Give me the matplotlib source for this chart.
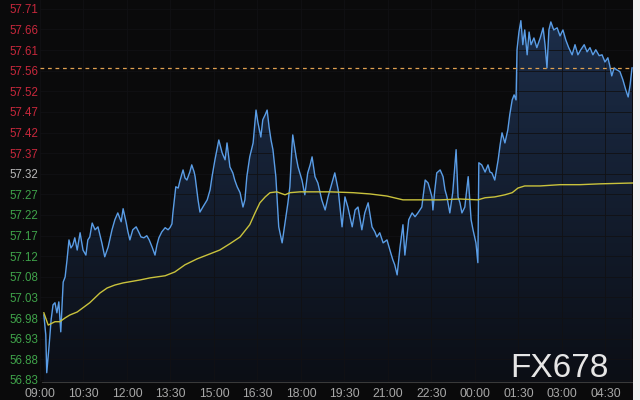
import matplotlib
matplotlib.use("Agg")
import matplotlib.pyplot as plt
import numpy as np
from matplotlib.colors import LinearSegmentedColormap
from matplotlib.patches import Rectangle

# minutes after 09:00 and price of the intraday line
minutes = [8, 12, 14, 19, 23, 27, 31, 35, 39, 43, 48, 52, 56, 60, 64, 68, 72, 77, 83, 89,
           95, 99, 103, 108, 114, 120, 124, 128, 134, 141, 149, 155, 161, 168, 172, 178, 182, 186, 192, 199,
           205, 209, 215, 221, 226, 232, 238, 242, 246, 252, 259, 265, 269, 273, 275, 281, 286, 290, 296, 300,
           304, 310, 314, 319, 321, 327, 331, 337, 346, 352, 356, 362, 366, 370, 377, 383, 387, 393, 399, 403,
           408, 414, 420, 424, 428, 434, 441, 447, 451, 457, 461, 466, 470, 474, 478, 482, 488, 494, 501, 507,
           513, 517, 521, 523, 530, 534, 542, 548, 554, 559, 563, 569, 575, 583, 590, 596, 604, 610, 617, 625,
           631, 637, 646, 652, 658, 666, 672, 679, 687, 693, 697, 703, 710, 718, 724, 730, 734, 739, 745, 751,
           755, 759, 763, 770, 776, 782, 786, 790, 797, 803, 807, 811, 813, 817, 821, 828, 834, 838, 842, 848,
           854, 861, 865, 869, 873, 879, 886, 892, 896, 902, 906, 908, 914, 921, 927, 931, 935, 941, 948, 952,
           956, 962, 968, 972, 977, 981, 985, 987, 991, 995, 999, 1003, 1008, 1012, 1016, 1022, 1028, 1035, 1041, 1045,
           1049, 1053, 1057, 1063, 1070, 1076, 1082, 1088, 1094, 1101, 1107, 1113, 1119, 1126, 1132, 1138, 1144, 1150, 1157, 1163,
           1169, 1175, 1179, 1183, 1188, 1194, 1200, 1206, 1212, 1217, 1221, 1225]
prices = [56.984, 56.937, 56.847, 56.913, 56.972, 57.008, 57.013, 56.989, 57.015, 56.944,
          57.062, 57.074, 57.115, 57.162, 57.143, 57.150, 57.167, 57.138, 57.179, 57.138,
          57.126, 57.162, 57.169, 57.202, 57.186, 57.193, 57.174, 57.155, 57.122, 57.145,
          57.186, 57.210, 57.226, 57.205, 57.236, 57.205, 57.181, 57.162, 57.186, 57.193,
          57.179, 57.169, 57.167, 57.172, 57.162, 57.145, 57.126, 57.150, 57.167, 57.181,
          57.191, 57.186, 57.191, 57.200, 57.226, 57.288, 57.285, 57.304, 57.328, 57.309,
          57.304, 57.323, 57.340, 57.323, 57.312, 57.257, 57.228, 57.240, 57.257, 57.281,
          57.312, 57.352, 57.376, 57.399, 57.368, 57.352, 57.392, 57.335, 57.321, 57.304,
          57.288, 57.274, 57.240, 57.257, 57.312, 57.359, 57.392, 57.470, 57.440, 57.406,
          57.447, 57.459, 57.470, 57.430, 57.399, 57.376, 57.312, 57.193, 57.155, 57.202,
          57.250, 57.288, 57.376, 57.411, 57.359, 57.335, 57.304, 57.269, 57.321, 57.340,
          57.359, 57.312, 57.297, 57.257, 57.233, 57.264, 57.297, 57.321, 57.281, 57.193,
          57.264, 57.240, 57.193, 57.233, 57.240, 57.186, 57.226, 57.250, 57.193, 57.181,
          57.169, 57.179, 57.155, 57.162, 57.138, 57.115, 57.103, 57.079, 57.145, 57.198,
          57.126, 57.169, 57.210, 57.226, 57.217, 57.226, 57.233, 57.240, 57.304, 57.297,
          57.281, 57.264, 57.233, 57.281, 57.321, 57.328, 57.312, 57.281, 57.264, 57.226,
          57.274, 57.376, 57.264, 57.250, 57.226, 57.240, 57.312, 57.210, 57.186, 57.155,
          57.108, 57.345, 57.340, 57.323, 57.340, 57.323, 57.321, 57.304, 57.352, 57.387,
          57.416, 57.392, 57.423, 57.459, 57.494, 57.506, 57.494, 57.613, 57.655, 57.682,
          57.625, 57.660, 57.601, 57.655, 57.625, 57.641, 57.618, 57.641, 57.665, 57.625,
          57.570, 57.660, 57.679, 57.660, 57.665, 57.646, 57.660, 57.636, 57.618, 57.601,
          57.625, 57.601, 57.613, 57.625, 57.608, 57.618, 57.601, 57.613, 57.599, 57.601,
          57.584, 57.594, 57.575, 57.551, 57.570, 57.565, 57.561, 57.542, 57.518, 57.501,
          57.530, 57.570]

# running average line
avg_minutes = [8, 17, 31, 41, 52, 62, 77, 103, 124, 139, 155, 172, 207, 228, 259, 279, 300, 325,
               352, 372, 393, 414, 434, 445, 455, 466, 476, 490, 507, 517, 538, 600, 648, 683, 718,
               751, 786, 828, 869, 906, 921, 941, 962, 977, 989, 1003, 1035, 1076, 1117, 1159, 1227]
avg_prices = [56.989, 56.960, 56.968, 56.968, 56.977, 56.984, 56.991, 57.013, 57.036, 57.048,
              57.055, 57.060, 57.067, 57.072, 57.077, 57.086, 57.103, 57.117, 57.129, 57.138,
              57.153, 57.169, 57.198, 57.226, 57.250, 57.264, 57.274, 57.276, 57.269, 57.274,
              57.276, 57.276, 57.274, 57.271, 57.266, 57.257, 57.257, 57.257, 57.259, 57.257,
              57.262, 57.264, 57.269, 57.274, 57.285, 57.290, 57.290, 57.293, 57.293, 57.295,
              57.297]

prev_close = 57.57

x_labels = ["09:00", "10:30", "12:00", "13:30", "15:00", "16:30", "18:00", "19:30",
            "21:00", "22:30", "00:00", "01:30", "03:00", "04:30"]
y_labels = ["56.83", "56.88", "56.93", "56.98", "57.03", "57.08", "57.12", "57.17",
            "57.22", "57.27", "57.32", "57.37", "57.42", "57.47", "57.52", "57.56",
            "57.61", "57.66", "57.71"]

bg = "#0a0a0b"
fig = plt.figure(figsize=(6.4, 4.0), dpi=100)
fig.patch.set_facecolor(bg)
ax = fig.add_axes([39.5 / 640, 18 / 400, (633 - 39.5) / 640, 382 / 400])
ax.set_facecolor(bg)

y_lo, y_hi = 56.825, 57.731
x_lo, x_hi = -1, 1227

# gradient fill under the price line
fill = ax.fill_between(minutes, prices, y_lo, facecolor="none", edgecolor="none")
cmap = LinearSegmentedColormap.from_list("fill", ["#0b0e15", "#1d2f4c"])
grad = ax.imshow(np.linspace(0, 1, 256).reshape(-1, 1), cmap=cmap, aspect="auto",
                 extent=[x_lo, x_hi, y_lo, y_hi], origin="lower", zorder=1)
grad.set_clip_path(fill.get_paths()[0], transform=ax.transData)

ax.plot(minutes, prices, color="#5a9de6", lw=1.0, zorder=3)
ax.plot(avg_minutes, avg_prices, color="#c9c23c", lw=1.0, zorder=4)
ax.axhline(prev_close, color="#e0a050", lw=0.9, ls=(0, (3, 3)), zorder=5)

ax.set_xlim(x_lo, x_hi)
ax.set_ylim(y_lo, y_hi)

ax.set_xticks(np.arange(len(x_labels)) * 90)
ax.set_xticklabels(x_labels, family="Liberation Sans", fontsize=8.8, color="#a8a8a8")
yt = np.linspace(float(y_labels[0]), float(y_labels[-1]), len(y_labels))
ax.set_yticks(yt)
ax.set_yticklabels(y_labels, family="Liberation Sans", fontsize=8.3)
for lab in ax.get_yticklabels():
    v = float(lab.get_text())
    if v > 57.33:
        lab.set_color("#c8283c")
    elif v > 57.30:
        lab.set_color("#b8b8b8")
    else:
        lab.set_color("#3fa34a")
ax.tick_params(axis="both", length=0)
ax.tick_params(axis="x", pad=4)
ax.tick_params(axis="y", pad=1)

ax.grid(True, color="#111114", lw=0.6, zorder=0)
for s in ["top", "right", "left"]:
    ax.spines[s].set_visible(False)
ax.spines["bottom"].set_color("#3a3a3a")
ax.spines["bottom"].set_bounds(4, x_hi)

fig.text(510 / 640, 1 - 377 / 400, "FX678", family="Liberation Sans", fontsize=24,
         color="#e6e6e6", va="baseline", ha="left")
fig.patches.append(Rectangle((633 / 640, 0), 7 / 640, 1, transform=fig.transFigure,
                             facecolor="#f2f2f2", edgecolor="none"))

fig.savefig("out.png", dpi=100, facecolor=fig.get_facecolor())
